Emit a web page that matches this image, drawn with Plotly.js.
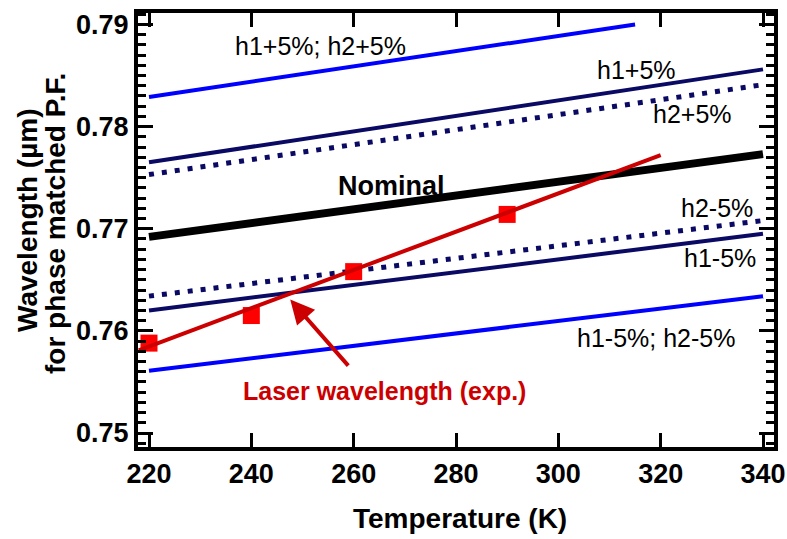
<!DOCTYPE html>
<html>
<head>
<meta charset="utf-8">
<script src="https://cdn.plot.ly/plotly-3.0.1.min.js"></script>
<style>
  html, body { margin: 0; padding: 0; background: #ffffff; }
  #chart { width: 787px; height: 539px; }
</style>
</head>
<body>
<div id="chart"></div>
<script>
// Temperature endpoints of the simulated tuning curves (K)
const tempSpan = [220, 340];
const tempBothPlus = [220, 315];

// Phase-matched wavelength (µm) for each layer-thickness variation
const bothPlus = [0.7829, 0.7900];   // h1+5%; h2+5%
const h1Plus = [0.7765, 0.7856];     // h1+5%
const h2Plus = [0.7753, 0.7841];     // h2+5%
const nominal = [0.7692, 0.7773];    // Nominal
const h2Minus = [0.7634, 0.7708];    // h2-5%
const h1Minus = [0.7620, 0.7695];    // h1-5%
const bothMinus = [0.7561, 0.7634];  // h1-5%; h2-5%

// Measured laser wavelength and its linear trend
const laserTemps = [220, 240, 260, 290];
const laserWavelength = [0.7588, 0.7615, 0.7658, 0.7714];
const laserFitTemps = [218, 320];
const laserFit = [0.7581, 0.7772];

// Axis ticks
const xTicks = [220, 240, 260, 280, 300, 320, 340];
const yTicks = [0.75, 0.76, 0.77, 0.78, 0.79];
const yTickText = ['0.75', '0.76', '0.77', '0.78', '0.79'];

const FONT = 'Liberation Sans, Arial, Helvetica, sans-serif';
const NAVY = '#0a0a64';
const BLUE = '#0000ff';
const DARK_RED = '#cc0000';

function curve(x, y, color, width, dash) {
  return {
    x: x, y: y, type: 'scatter', mode: 'lines', hoverinfo: 'skip',
    line: { color: color, width: width, dash: dash || 'solid' }
  };
}

const traces = [
  curve(tempBothPlus, bothPlus, BLUE, 4),
  curve(tempSpan, h1Plus, NAVY, 4),
  curve(tempSpan, h2Plus, NAVY, 5, '5px,8px'),
  curve(tempSpan, nominal, '#000000', 8),
  curve(tempSpan, h2Minus, NAVY, 5, '5px,8px'),
  curve(tempSpan, h1Minus, NAVY, 4),
  curve(tempSpan, bothMinus, BLUE, 4),
  {
    x: laserTemps, y: laserWavelength, type: 'scatter', mode: 'markers', hoverinfo: 'skip',
    marker: { symbol: 'square', size: 17, color: '#ff0000', line: { width: 0 } }
  },
  curve(laserFitTemps, laserFit, DARK_RED, 4)
];

function label(text, x, y, opts) {
  opts = opts || {};
  return {
    x: x, y: y, xref: 'x', yref: 'y', text: text, showarrow: false,
    xanchor: 'center', yanchor: 'middle',
    font: { family: FONT, size: opts.size || 25, color: opts.color || '#000000', weight: opts.weight || 'normal' }
  };
}

const annotations = [
  label('h1+5%; h2+5%', 253.5, 0.78785),
  label('h1+5%', 315.3, 0.78550),
  label('h2+5%', 326.2, 0.78120),
  label('Nominal', 267.3, 0.77420, { size: 27, weight: 'bold' }),
  label('h2-5%', 331.1, 0.77200),
  label('h1-5%', 331.5, 0.76710),
  label('h1-5%; h2-5%', 319.0, 0.75930),
  label('Laser wavelength (exp.)', 266.1, 0.75410, { size: 25, weight: 'bold', color: DARK_RED }),
  {
    // arrow pointing at the laser trend line
    x: 247.6, y: 0.76306, ax: 259.2, ay: 0.75645,
    xref: 'x', yref: 'y', axref: 'x', ayref: 'y',
    text: '', showarrow: true, arrowhead: 2, arrowsize: 1.2, arrowwidth: 4,
    arrowcolor: DARK_RED, standoff: 0, startstandoff: 0
  },
  {
    x: 0, y: 0.5, xref: 'paper', yref: 'paper', xshift: -111, yshift: 10,
    text: 'Wavelength (µm)', textangle: -90, showarrow: false,
    xanchor: 'center', yanchor: 'middle',
    font: { family: FONT, size: 28, color: '#000000', weight: 'bold' }
  },
  {
    x: 0, y: 0.5, xref: 'paper', yref: 'paper', xshift: -83, yshift: 6,
    text: 'for phase matched P.F.', textangle: -90, showarrow: false,
    xanchor: 'center', yanchor: 'middle',
    font: { family: FONT, size: 28, color: '#000000', weight: 'bold' }
  },
  {
    x: 0.5, y: 0, xref: 'paper', yref: 'paper', xshift: 4, yshift: -71,
    text: 'Temperature (K)', showarrow: false,
    xanchor: 'center', yanchor: 'middle',
    font: { family: FONT, size: 28, color: '#000000', weight: 'bold' }
  }
];

const layout = {
  width: 787, height: 539,
  margin: { l: 138, r: 13, t: 13, b: 92, pad: 0 },
  paper_bgcolor: '#ffffff', plot_bgcolor: '#ffffff',
  showlegend: false,
  xaxis: {
    range: [217.85, 342.15], tickvals: xTicks,
    ticks: 'inside', ticklen: 14, tickwidth: 3, tickcolor: '#000000',
    showline: true, linewidth: 4, linecolor: '#000000', mirror: 'ticks',
    showgrid: false, zeroline: false,
    tickfont: { family: FONT, size: 27, color: '#000000', weight: 'bold' }
  },
  yaxis: {
    range: [0.74863, 0.79112], tickvals: yTicks, ticktext: yTickText,
    ticks: 'inside', ticklen: 15, tickwidth: 3, tickcolor: '#000000',
    minor: { dtick: 0.001, tick0: 0.75, ticks: 'inside', ticklen: 8, tickwidth: 3, tickcolor: '#000000', showgrid: false },
    showline: true, linewidth: 4, linecolor: '#000000', mirror: 'ticks',
    showgrid: false, zeroline: false,
    tickfont: { family: FONT, size: 27, color: '#000000', weight: 'bold' }
  },
  annotations: annotations
};

Plotly.newPlot('chart', traces, layout, { staticPlot: true, displayModeBar: false });
</script>
</body>
</html>
